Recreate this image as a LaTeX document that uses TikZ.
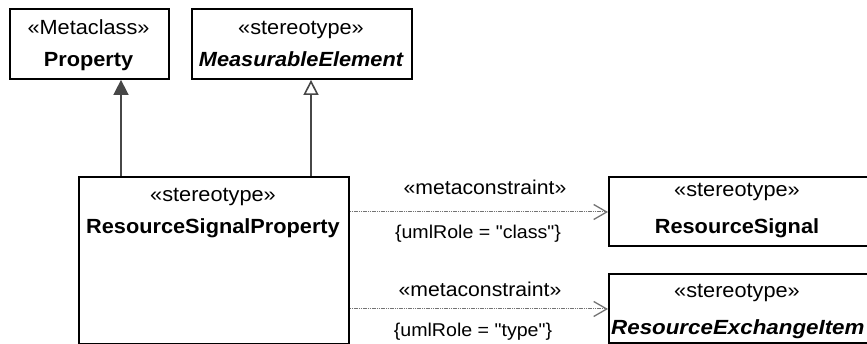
\documentclass[tikz,border=0pt]{standalone}
\usepackage{fontspec}
\setmainfont{Liberation Sans}[FakeStretch=1.06]
\newfontfamily\widefont{Liberation Sans}[FakeStretch=1.09]
\newfontfamily\plainfont{Liberation Sans}[FakeStretch=1.06,Ligatures=TeXOff]
\usetikzlibrary{arrows.meta}
\begin{document}
\begin{tikzpicture}[x=1pt,y=-1pt,
 box/.style={draw=black,line width=1.9pt,inner sep=0pt,anchor=north west},
 txt/.style={anchor=base,inner sep=0pt,font=\fontsize{20.5}{24}\selectfont},
 mc/.style={anchor=base,inner sep=0pt,font=\fontsize{20}{24}\selectfont},
 lbl/.style={anchor=base,inner sep=0pt,font=\plainfont\fontsize{18.5}{22}\selectfont},
 gen/.style={draw=black!72,line width=1.6pt},
 dep/.style={draw=black!55,line width=1pt,dash pattern=on 1.2pt off 0.6pt}]
\useasboundingbox (0,0) rectangle (867,344);
% boxes
\node[box,minimum width=159pt,minimum height=70pt] (prop) at (9,8) {};
\node[box,minimum width=220pt,minimum height=70pt] (meas) at (191,8) {};
\node[box,minimum width=270pt,minimum height=167pt] (rsp) at (78,176) {};
\node[box,minimum width=264pt,minimum height=69pt] (rs) at (608,176) {};
\node[box,minimum width=264pt,minimum height=69pt] (rei) at (608,273) {};
% texts
\node[txt] (propS) at (88.5,35) {«Metaclass»};
\node[txt] (propN) at (88.5,67) {\bfseries Property};
\node[txt] (measS) at (301,35) {«stereotype»};
\node[txt] (measN) at (301,67) {\bfseries\itshape MeasurableElement};
\node[txt] (rspS) at (213,202) {«stereotype»};
\node[txt] (rspN) at (213,234) {\bfseries ResourceSignalProperty};
\node[txt] (rsS) at (737,197) {«stereotype»};
\node[txt] (rsN) at (737,234) {\bfseries ResourceSignal};
\node[txt] (reiS) at (737,298) {«stereotype»};
\node[txt,anchor=base west] (reiN) at (611,335) {\widefont\bfseries\itshape ResourceExchangeItem};
% generalizations
\draw[gen,-{Triangle[width=15pt,length=15pt,fill=black!72]}] ([xshift=43pt]rsp.north west) -- ([xshift=112pt]prop.south west);
\draw[gen,-{Triangle[open,width=15pt,length=15pt,fill=white]}] ([xshift=233pt]rsp.north west) -- ([xshift=120pt]meas.south west);
% dependencies
\draw[dep,-{Straight Barb[length=13pt,width=15pt,line width=1.3pt]}] ([yshift=-36pt]rsp.north east) -- ([yshift=-36pt]rsp.north east -| rs.west);
\draw[dep,-{Straight Barb[length=13pt,width=15pt,line width=1.3pt]}] ([yshift=-133pt]rsp.north east) -- ([yshift=-133pt]rsp.north east -| rei.west);
% labels
\node[mc] (mc1) at (485,195) {«metaconstraint»};
\node[lbl] (ur1) at (478,239) {\{umlRole = "class"\}};
\node[mc] (mc2) at (480,297) {«metaconstraint»};
\node[lbl] (ur2) at (473,337) {\{umlRole = "type"\}};
\end{tikzpicture}
\end{document}
